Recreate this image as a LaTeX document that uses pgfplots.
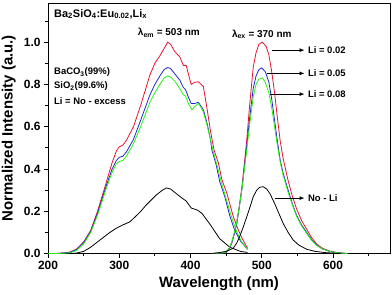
\documentclass[border=0pt]{standalone}
\usepackage{pgfplots}
\pgfplotsset{compat=1.18}
\usepackage{fontspec}
\setmainfont{Liberation Sans}
\usetikzlibrary{arrows.meta}
\definecolor{cred}{RGB}{230,20,50}
\definecolor{cblue}{RGB}{30,40,200}
\definecolor{cgreen}{RGB}{40,240,20}
\begin{document}
\begin{tikzpicture}
\begin{axis}[
 scale only axis, width=342bp, height=250.5bp,
 xmin=200, xmax=680, ymin=0, ymax=1.185,
 xtick={200,300,400,500,600}, minor xtick={250,350,450,550,650},
 ytick={0,0.2,0.4,0.6,0.8,1.0}, minor ytick={0.1,0.3,0.5,0.7,0.9,1.1},
 tick align=outside, tick pos=left,
 major tick length=4bp, minor tick length=2.5bp,
 every tick/.style={black, line width=0.8pt},
 axis line style={line width=0.8pt},
 ticklabel style={font=\fontsize{12}{14}\selectfont\bfseries},
 /pgf/number format/assume math mode=true,
 yticklabel style={/pgf/number format/.cd, fixed, fixed zerofill, precision=1},
 xlabel={Wavelength (nm)}, ylabel={Normalized Intensity (a.u.)},
 label style={font=\fontsize{15}{17}\selectfont\bfseries},
 xlabel style={at={(axis description cs:0.5,-0.122)}, anchor=center},
 ylabel style={at={(axis description cs:-0.115,0.5)}, anchor=center},
 clip=false,
]
% excitation spectra (lambda_em = 503 nm)
\addplot[cred, line width=0.8pt] coordinates {
(200,0) (210,0) (220,0.002) (230,0.006) (240,0.02) (250,0.055) (260,0.11) (270,0.205) (280,0.316) (290,0.43) (296,0.485) (300,0.505) (305,0.512) (310,0.535) (320,0.60) (330,0.70) (343,0.844) (350,0.90) (357,0.935) (363,0.97) (368,1.0) (372,0.99) (378,0.955) (385,0.93) (390,0.89) (394,0.89) (397,0.85) (401,0.80) (406,0.81) (411,0.812) (418,0.79) (423,0.69) (428,0.58) (433,0.49) (439,0.43) (444,0.35) (451,0.285) (460,0.175) (466,0.12) (472,0.075) (480,0.025)};
\addplot[cblue, line width=0.8pt] coordinates {
(200,0) (210,0) (220,0.002) (230,0.005) (240,0.018) (250,0.05) (260,0.105) (270,0.195) (280,0.303) (290,0.40) (296,0.44) (300,0.455) (305,0.46) (310,0.48) (320,0.54) (330,0.63) (343,0.75) (350,0.80) (357,0.84) (363,0.87) (368,0.88) (372,0.875) (378,0.85) (385,0.82) (390,0.785) (393,0.775) (397,0.74) (401,0.71) (406,0.71) (411,0.715) (418,0.68) (423,0.62) (428,0.54) (430,0.49) (436,0.42) (441,0.34) (448,0.27) (455,0.18) (462,0.11) (470,0.06) (480,0.02)};
\addplot[cgreen, line width=0.8pt] coordinates {
(200,0) (210,0) (220,0.001) (230,0.003) (240,0.014) (250,0.045) (260,0.10) (270,0.185) (280,0.29) (290,0.385) (296,0.425) (300,0.435) (305,0.44) (310,0.46) (320,0.52) (330,0.60) (343,0.715) (350,0.76) (357,0.80) (363,0.83) (368,0.84) (372,0.835) (378,0.815) (385,0.78) (390,0.75) (393,0.745) (397,0.71) (402,0.68) (406,0.695) (411,0.71) (415,0.69) (418,0.67) (423,0.61) (428,0.54) (432,0.48) (437,0.42) (443,0.34) (449,0.27) (457,0.18) (464,0.11) (471,0.06) (480,0.02)};
\addplot[black, line width=0.8pt] coordinates {
(230,0) (240,0.002) (250,0.01) (260,0.03) (273,0.064) (287,0.10) (296,0.12) (305,0.135) (315,0.15) (329,0.195) (338,0.23) (352,0.277) (360,0.298) (366,0.31) (372,0.305) (385,0.27) (394,0.248) (401,0.215) (410,0.205) (416,0.19) (427,0.14) (441,0.07) (455,0.03) (470,0.01) (480,0.005)};
% emission spectra (lambda_ex = 370 nm)
\addplot[cred, line width=0.8pt] coordinates {
(430,0) (445,0.002) (450,0.005) (455,0.025) (458,0.05) (462,0.10) (465,0.145) (468,0.21) (472,0.31) (476,0.44) (479,0.54) (483,0.70) (488,0.88) (492,0.95) (496,0.99) (501,1.0) (506,0.98) (510,0.94) (514,0.86) (518,0.76) (522,0.64) (526,0.53) (530,0.45) (537,0.345) (543,0.27) (549,0.21) (556,0.155) (563,0.115) (570,0.075) (577,0.045) (585,0.025) (595,0.012) (605,0.005) (620,0)};
\addplot[cblue, line width=0.8pt] coordinates {
(430,0) (445,0.002) (450,0.005) (455,0.027) (458,0.052) (462,0.10) (465,0.145) (468,0.21) (472,0.30) (476,0.42) (479,0.51) (483,0.64) (488,0.78) (492,0.84) (496,0.87) (500,0.878) (505,0.86) (510,0.81) (514,0.73) (518,0.63) (522,0.53) (526,0.44) (530,0.38) (537,0.30) (543,0.235) (549,0.18) (556,0.135) (563,0.10) (570,0.065) (577,0.04) (585,0.022) (595,0.01) (605,0.004) (620,0)};
\addplot[cgreen, line width=0.8pt] coordinates {
(430,0) (445,0.003) (450,0.007) (455,0.03) (458,0.055) (462,0.105) (465,0.15) (468,0.21) (472,0.30) (476,0.41) (479,0.49) (483,0.61) (488,0.74) (492,0.80) (496,0.825) (501,0.831) (505,0.81) (510,0.76) (514,0.69) (518,0.60) (521,0.53) (526,0.43) (530,0.37) (537,0.29) (543,0.23) (549,0.175) (556,0.13) (563,0.095) (570,0.062) (577,0.038) (585,0.022) (595,0.01) (605,0.004) (620,0)};
\addplot[black, line width=0.8pt] coordinates {
(430,0) (440,0.004) (450,0.01) (455,0.017) (460,0.025) (465,0.05) (469,0.08) (474,0.125) (479,0.174) (484,0.225) (488,0.268) (493,0.30) (497,0.313) (502,0.316) (507,0.305) (512,0.28) (518,0.237) (524,0.19) (530,0.143) (537,0.10) (544,0.064) (552,0.04) (563,0.02) (575,0.01) (590,0.004) (600,0.002) (610,0)};
% annotations
\node[anchor=west, inner sep=0pt, font=\fontsize{11}{13}\selectfont\bfseries] at (axis cs:208.4,1.132) {Ba\textsubscript{2}SiO\textsubscript{4}:Eu\textsubscript{0.02},Li\textsubscript{x}};
\node[anchor=west, inner sep=0pt, font=\fontsize{10}{12}\selectfont\bfseries] at (axis cs:326,1.043) {λ\textsubscript{em} = 503 nm};
\node[anchor=west, inner sep=0pt, font=\fontsize{10}{12}\selectfont\bfseries] at (axis cs:458,1.038) {λ\textsubscript{ex} = 370 nm};
\node[anchor=west, inner sep=0pt, font=\fontsize{9.5}{11}\selectfont\bfseries] at (axis cs:208.4,0.858) {BaCO\textsubscript{3}(99\%)};
\node[anchor=west, inner sep=0pt, font=\fontsize{9.5}{11}\selectfont\bfseries] at (axis cs:208.4,0.792) {SiO\textsubscript{2}(99.6\%)};
\node[anchor=west, inner sep=0pt, font=\fontsize{9.5}{11}\selectfont\bfseries] at (axis cs:208.4,0.721) {Li = No - excess};
\draw[-{Latex[length=5pt,width=4pt]}, line width=0.8pt] (axis cs:513.7,0.962) -- (axis cs:560,0.962);
\draw[-{Latex[length=5pt,width=4pt]}, line width=0.8pt] (axis cs:506.7,0.852) -- (axis cs:560,0.852);
\draw[-{Latex[length=5pt,width=4pt]}, line width=0.8pt] (axis cs:511.4,0.754) -- (axis cs:560,0.754);
\draw[-{Latex[length=5pt,width=4pt]}, line width=0.8pt] (axis cs:518.4,0.262) -- (axis cs:560,0.262);
\node[anchor=west, inner sep=0pt, font=\fontsize{9.5}{11}\selectfont\bfseries] at (axis cs:564.7,0.962) {Li = 0.02};
\node[anchor=west, inner sep=0pt, font=\fontsize{9.5}{11}\selectfont\bfseries] at (axis cs:564.7,0.852) {Li = 0.05};
\node[anchor=west, inner sep=0pt, font=\fontsize{9.5}{11}\selectfont\bfseries] at (axis cs:564.7,0.754) {Li = 0.08};
\node[anchor=west, inner sep=0pt, font=\fontsize{9.5}{11}\selectfont\bfseries] at (axis cs:564.7,0.262) {No - Li};
\end{axis}
\pgfresetboundingbox
\path ([xshift=-48bp,yshift=-41.5bp]current axis.south west) rectangle ([xshift=2bp,yshift=3bp]current axis.north east);
\end{tikzpicture}
\end{document}
